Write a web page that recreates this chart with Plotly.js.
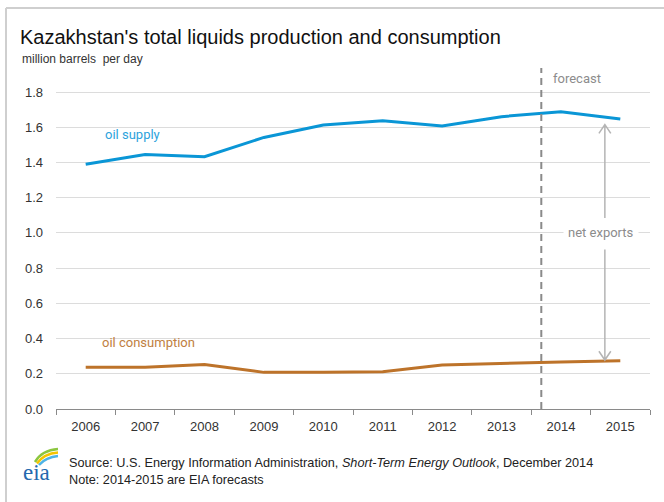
<!DOCTYPE html>
<html>
<head>
<meta charset="utf-8">
<script src="https://cdn.plot.ly/plotly-3.0.1.min.js"></script>
<style>html,body{margin:0;padding:0;background:#fff;}#chart{width:664px;height:502px;}</style>
</head>
<body>
<div id="chart"></div>
<script>
const years = [2006, 2007, 2008, 2009, 2010, 2011, 2012, 2013, 2014, 2015];
const oilSupply = [1.39, 1.445, 1.433, 1.542, 1.612, 1.637, 1.607, 1.66, 1.688, 1.647];
const oilConsumption = [0.237, 0.237, 0.252, 0.208, 0.208, 0.212, 0.25, 0.26, 0.267, 0.274];
const yTicks = [0, 0.2, 0.4, 0.6, 0.8, 1.0, 1.2, 1.4, 1.6, 1.8];
const yTickText = ['0.0', '0.2', '0.4', '0.6', '0.8', '1.0', '1.2', '1.4', '1.6', '1.8'];
const forecastStart = 2013.67;

// pixel -> paper helpers (plot area: x 56..650, y 68..409)
const L = 56, R = 14, T = 68, B = 93, W = 664, H = 502;
const pw = W - L - R, ph = H - T - B;
const px = v => (v - L) / pw;
const py = v => (H - B - v) / ph;

const supplyColor = '#0a96d6';
const consColor = '#bd732a';
const grayTxt = '#8c8c8c';
const arrowColor = '#b4b4b4';

const traces = [
  {x: years, y: oilSupply, type: 'scatter', mode: 'lines', line: {color: supplyColor, width: 3}, hoverinfo: 'skip'},
  {x: years, y: oilConsumption, type: 'scatter', mode: 'lines', line: {color: consColor, width: 3}, hoverinfo: 'skip'}
];

const ax = 2014.74;
const upTip = 1.615, upTail = 1.085, dnTail = 0.905, dnTip = 0.278;
const hx = 0.1, hy = 0.05;

const shapes = [
  // frame
  {type: 'line', xref: 'paper', yref: 'paper', x0: px(6), x1: px(6), y0: py(8), y1: py(510), line: {color: '#cfcfcf', width: 2}},
  {type: 'line', xref: 'paper', yref: 'paper', x0: px(6), x1: px(700), y0: py(8), y1: py(8), line: {color: '#cfcfcf', width: 2}},
  // forecast dashed line
  {type: 'line', xref: 'x', yref: 'paper', x0: forecastStart, x1: forecastStart, y0: 0, y1: 1, line: {color: '#8a8a8a', width: 2, dash: '7px,5px'}},
  // up arrow
  {type: 'path', xref: 'x', yref: 'y', path: `M${ax},${upTail} L${ax},${upTip} M${ax - hx},${upTip - hy} L${ax},${upTip} L${ax + hx},${upTip - hy}`, line: {color: arrowColor, width: 1.5}},
  // down arrow
  {type: 'path', xref: 'x', yref: 'y', path: `M${ax},${dnTail} L${ax},${dnTip} M${ax - hx},${dnTip + hy} L${ax},${dnTip} L${ax + hx},${dnTip + hy}`, line: {color: arrowColor, width: 1.5}},
  // eia logo arcs
  {type: 'path', xref: 'paper', yref: 'paper', path: `M${px(35)},${py(462)} Q${px(42)},${py(450)} ${px(58)},${py(449)}`, line: {color: '#8cc63f', width: 2.5}},
  {type: 'path', xref: 'paper', yref: 'paper', path: `M${px(37)},${py(463.5)} Q${px(44)},${py(453.5)} ${px(58)},${py(452.5)}`, line: {color: '#f5c400', width: 2.5}},
  {type: 'path', xref: 'paper', yref: 'paper', path: `M${px(39)},${py(465)} Q${px(46)},${py(457)} ${px(58)},${py(456)}`, line: {color: '#4db3e6', width: 2.5}}
];

const annFont = {family: 'Roboto, "DejaVu Sans", sans-serif', size: 13};
const annotations = [
  {xref: 'paper', yref: 'paper', x: px(20), y: py(59), xanchor: 'left', yanchor: 'middle', showarrow: false,
   text: 'million barrels  per day', font: {family: '"Liberation Sans", Arial, sans-serif', size: 12, color: '#333'}},
  {xref: 'x', yref: 'y', x: 2006.78, y: 1.556, showarrow: false, text: 'oil supply', font: Object.assign({}, annFont, {color: '#2ea3dc'})},
  {xref: 'x', yref: 'y', x: 2007.06, y: 0.375, showarrow: false, text: 'oil consumption', font: Object.assign({}, annFont, {color: '#c0803f'})},
  {xref: 'paper', yref: 'paper', x: px(551), y: py(79), xanchor: 'left', yanchor: 'middle', showarrow: false, text: 'forecast', font: Object.assign({}, annFont, {color: grayTxt})},
  {xref: 'x', yref: 'y', x: 2014.68, y: 1.005, showarrow: false, text: 'net exports', bgcolor: '#ffffff', borderpad: 4, font: Object.assign({}, annFont, {color: grayTxt})},
  {xref: 'paper', yref: 'paper', x: px(21), y: py(472), xanchor: 'left', yanchor: 'middle', showarrow: false, text: 'eia',
   font: {family: '"Liberation Serif", "DejaVu Serif", serif', size: 23, color: '#2468ae'}},
  {xref: 'paper', yref: 'paper', x: px(67), y: py(471), xanchor: 'left', yanchor: 'middle', align: 'left', showarrow: false,
   text: 'Source: U.S. Energy Information Administration, <i>Short-Term Energy Outlook</i>, December 2014<br>Note: 2014-2015 are EIA forecasts',
   font: {family: '"Liberation Sans", Arial, sans-serif', size: 12.7, color: '#222'}}
];

const layout = {
  width: W, height: H,
  margin: {l: L, r: R, t: T, b: B, pad: 0},
  paper_bgcolor: '#ffffff', plot_bgcolor: '#ffffff',
  showlegend: false,
  font: {family: '"Liberation Sans", Arial, sans-serif', size: 13, color: '#333'},
  title: {text: "Kazakhstan's total liquids production and consumption", x: 20 / W, xref: 'container', xanchor: 'left',
          y: 1 - 37 / H, yref: 'container', yanchor: 'middle',
          font: {family: '"Liberation Sans", Arial, sans-serif', size: 20, color: '#111'}},
  xaxis: {
    type: 'linear', range: [2005.5, 2015.5], tickvals: years, ticktext: years.map(String),
    ticks: '', showgrid: false, zeroline: false, showline: true, linecolor: '#8a8a8a', linewidth: 1,
    ticklabelstandoff: 5, tickfont: {size: 13, color: '#333'},
    minor: {tick0: 2005.5, dtick: 1, ticks: 'outside', ticklen: 5, tickcolor: '#8a8a8a', tickwidth: 1, showgrid: false},
    fixedrange: true
  },
  yaxis: {
    range: [0, (H - B - T) / ((H - B - 92) / 1.8)], tickvals: yTicks, ticktext: yTickText,
    ticks: '', showgrid: true, gridcolor: '#dcdcdc', gridwidth: 1, zeroline: false, showline: false,
    ticklabelstandoff: 12, tickfont: {size: 13, color: '#333'}, fixedrange: true
  },
  shapes: shapes,
  annotations: annotations
};

Plotly.newPlot('chart', traces, layout, {displayModeBar: false, staticPlot: true});
</script>
</body>
</html>
